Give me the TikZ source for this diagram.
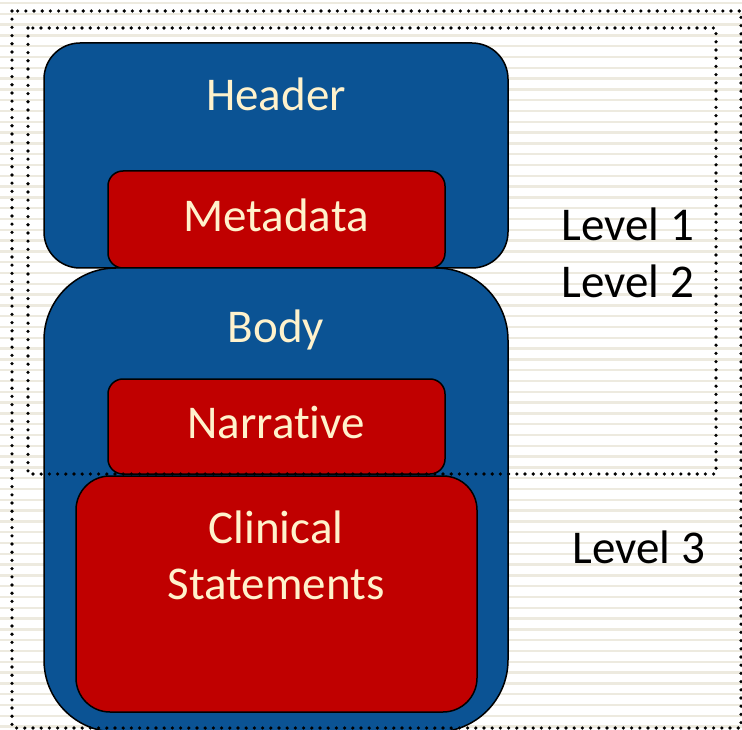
\documentclass[tikz,border=0pt]{standalone}
\usepackage{fontspec}
\setmainfont{Carlito}[Ligatures=NoCommon]
\definecolor{docblue}{HTML}{0B5394}
\definecolor{docred}{HTML}{C00000}
\definecolor{doctext}{HTML}{FFF2CC}
\definecolor{stripe}{HTML}{EDEADF}
\tikzset{
  blockbox/.style={draw=black, line width=1.5pt, fill=docblue, rounded corners=#1},
  partbox/.style={draw=black, line width=1.5pt, fill=docred, rounded corners=#1},
  boxtext/.style={text=doctext, font=\fontsize{47}{56}\selectfont, align=center},
  leveltext/.style={text=black, font=\fontsize{47}{56}\selectfont},
  levelframe/.style={draw=black, line width=3.6pt, line cap=round, dash pattern=on 0pt off 8.2pt}
}
\begin{document}
\begin{tikzpicture}[x=1pt, y=-1pt]
\useasboundingbox (0,0) rectangle (742,730);
% striped background
\fill[white] (0,0) rectangle (742,730);
\foreach \y in {3,13.8,...,730} {
  \draw[stripe, line width=2.5pt] (0,\y) -- (742,\y);
}
% document parts
\draw[blockbox=36] (44,43) rectangle (508,268);
\coordinate (header) at (276,94);
\draw[partbox=15] (108,171) rectangle (445,268);
\coordinate (metadata) at (276,215);
\draw[blockbox=72] (44,268) rectangle (508,732);
\coordinate (body) at (276,330);
\draw[partbox=15] (108,379) rectangle (445,474);
\coordinate (narrative) at (276,423);
\draw[partbox=34] (76,476) rectangle (477,712);
\coordinate (clinical) at (276,555);
\node[boxtext] (headerlabel) at (header) {Header};
\node[boxtext] (metadatalabel) at (metadata) {Metadata};
\node[boxtext] (bodylabel) at (body) {Body};
\node[boxtext] (narrativelabel) at (narrative) {Narrative};
\node[boxtext] (clinicallabel) at (clinical) {Clinical\\Statements};
% level frames
\draw[levelframe] (12,11) rectangle (741,728);
\draw[levelframe] (28,28) rectangle (716,474);
\node[leveltext] (levelone) at (628,224) {Level 1};
\node[leveltext] (leveltwo) at (628,281) {Level 2};
\node[leveltext] (levelthree) at (639,547) {Level 3};
\end{tikzpicture}
\end{document}
